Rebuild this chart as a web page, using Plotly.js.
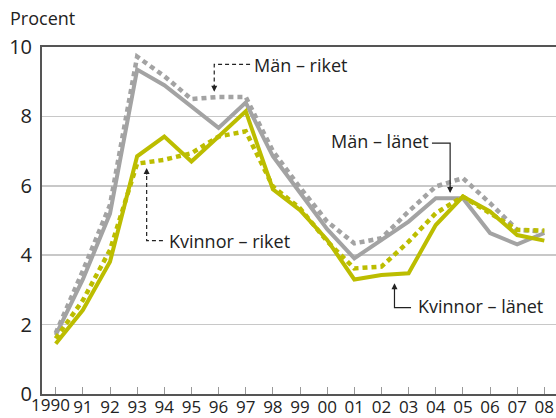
<!DOCTYPE html>
<html>
<head>
<meta charset="utf-8">
<script src="https://cdn.plot.ly/plotly-3.0.1.min.js"></script>
<style>html,body{margin:0;padding:0;background:#fff;}#chart{width:556px;height:418px;}</style>
</head>
<body>
<div id="chart"></div>
<script>
const years = [1990,1991,1992,1993,1994,1995,1996,1997,1998,1999,2000,2001,2002,2003,2004,2005,2006,2007,2008];
const tickLabels = ["1990","91","92","93","94","95","96","97","98","99","00","01","02","03","04","05","06","07","08"];
const menRiket = [1.75,3.55,5.45,9.72,9.16,8.5,8.56,8.56,7.0,5.95,4.97,4.34,4.49,5.26,5.98,6.22,5.5,4.73,4.68];
const menLanet = [1.7,3.3,5.2,9.35,8.9,8.27,7.67,8.4,6.85,5.8,4.75,3.91,4.44,4.97,5.64,5.64,4.64,4.31,4.64];
const kvRiket = [1.6,2.7,4.15,6.64,6.75,6.94,7.42,7.57,5.98,5.35,4.4,3.62,3.67,4.39,5.21,5.69,5.21,4.73,4.71];
const kvLanet = [1.45,2.42,3.81,6.85,7.42,6.7,7.42,8.15,5.9,5.3,4.44,3.3,3.43,3.48,4.87,5.69,5.26,4.58,4.42];
const seriesNames = ["Män – riket","Män – länet","Kvinnor – riket","Kvinnor – länet"];

const GRAY = '#a3a3a3', YEL = '#bcbd00';
const FONT = '"Open Sans", "Noto Sans", sans-serif';
const traces = [
  {x: years, y: menRiket, name: seriesNames[0], mode:'lines', line:{color:GRAY, width:4.5, dash:'5px,4px'}},
  {x: years, y: menLanet, name: seriesNames[1], mode:'lines', line:{color:GRAY, width:4}},
  {x: years, y: kvRiket, name: seriesNames[2], mode:'lines', line:{color:YEL, width:4.5, dash:'5px,4px'}},
  {x: years, y: kvLanet, name: seriesNames[3], mode:'lines', line:{color:YEL, width:4}}
];

const ANN = '#222';
const shapes = [
  {type:'path', xref:'x', yref:'y', path:'M 1997.16 9.50 L 1995.84 9.50 L 1995.84 8.85', line:{color:ANN, width:1.2, dash:'4px,3px'}},
  {type:'path', xref:'x', yref:'y', path:'M 2003.86 7.23 L 2004.53 7.23 L 2004.53 5.95', line:{color:ANN, width:1.2}},
  {type:'path', xref:'x', yref:'y', path:'M 1993.95 4.42 L 1993.35 4.42 L 1993.35 6.35', line:{color:ANN, width:1.2, dash:'4px,3px'}},
  {type:'path', xref:'x', yref:'y', path:'M 2003.09 2.49 L 2002.48 2.49 L 2002.48 3.05', line:{color:ANN, width:1.2}}
];

function arrow(x, y, ay){
  return {x:x, y:y, xref:'x', yref:'y', text:'', showarrow:true, arrowhead:2, arrowsize:1, arrowwidth:1.2,
          arrowcolor:ANN, ax:0, ay:ay, standoff:0};
}
const annFont = {family: FONT, size: 18, color:'#222'};
const tickFont = {family: FONT, size: 17, color:'#222'};
const annotations = [
  {x:1997.22, y:9.49, xref:'x', yref:'y', text:seriesNames[0], showarrow:false, xanchor:'left', yanchor:'middle', font:annFont},
  {x:2003.82, y:7.30, xref:'x', yref:'y', text:seriesNames[1], showarrow:false, xanchor:'right', yanchor:'middle', font:annFont},
  {x:1994.10, y:4.42, xref:'x', yref:'y', text:seriesNames[2], showarrow:false, xanchor:'left', yanchor:'middle', font:annFont},
  {x:2003.26, y:2.53, xref:'x', yref:'y', text:seriesNames[3], showarrow:false, xanchor:'left', yanchor:'middle', font:annFont},
  arrow(1995.84, 8.71, -8),
  arrow(2004.53, 5.79, -8),
  arrow(1993.35, 6.51, 8),
  arrow(2002.48, 3.19, 8),
  // first year label, set slightly left of its tick as in the original
  {x:years[0], y:0, xref:'x', yref:'paper', text:tickLabels[0], showarrow:false, xanchor:'center', yanchor:'top',
   xshift:-5, yshift:2, borderpad:0, font:tickFont},
  {x:0, y:1, xref:'paper', yref:'paper', xanchor:'left', yanchor:'middle', text:'Procent', showarrow:false,
   font:{family:FONT, size:18, color:'#222'}, xshift:-34, yshift:29}
];
const shownTicks = tickLabels.map((t,i) => i === 0 ? '' : t);

const layout = {
  width:556, height:418,
  margin:{l:42, r:0, t:47, b:24, pad:0},
  paper_bgcolor:'#fff', plot_bgcolor:'#fff',
  showlegend:false,
  font:{family:FONT, color:'#222'},
  xaxis:{range:[1989.495, 2008.43], tickmode:'array', tickvals:years, ticktext:shownTicks, tickangle:0,
         ticks:'inside', ticklen:7, tickwidth:1, tickcolor:'#999', showgrid:false, zeroline:false,
         showline:true, linecolor:'#555', linewidth:2, mirror:true, ticklabelstandoff:-3,
         tickfont:tickFont, fixedrange:true},
  yaxis:{range:[0,10], tickvals:[0,2,4,6,8,10], ticks:'', showgrid:true, gridcolor:'#c8c8c8', gridwidth:1.5,
         zeroline:false, showline:true, linecolor:'#555', linewidth:2,
         tickfont:{family:FONT, size:20, color:'#222'}, ticklabelstandoff:4, fixedrange:true},
  shapes:shapes,
  annotations:annotations
};
Plotly.newPlot('chart', traces, layout, {displayModeBar:false, staticPlot:true});
</script>
</body>
</html>
